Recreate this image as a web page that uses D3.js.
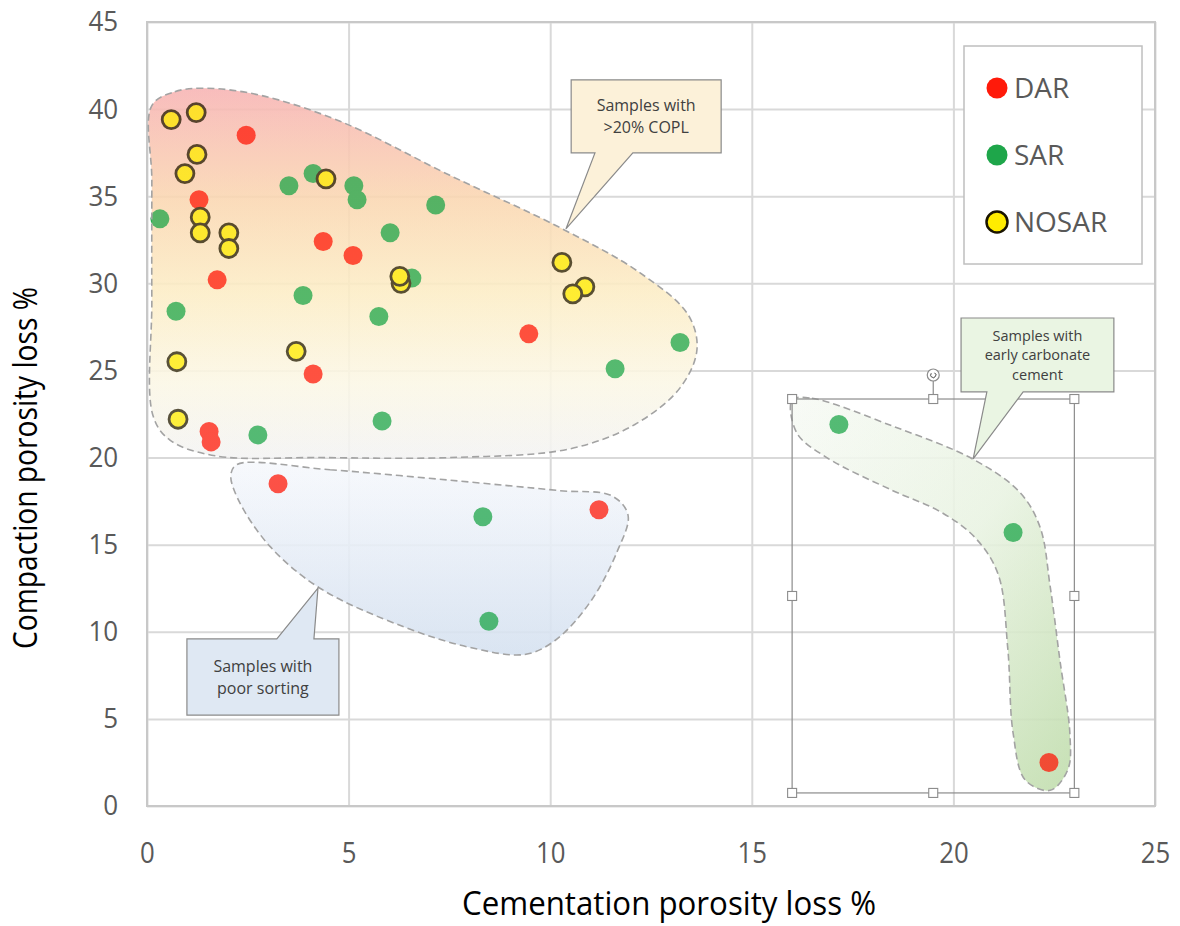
<!DOCTYPE html>
<html lang="en">
<head>
  <meta charset="UTF-8">
  <script src="https://cdn.jsdelivr.net/npm/d3@7"></script>
  <title>Porosity loss</title>
  <style>
    body { margin: 0; background: #fff; }
  </style>
</head>
<body>
  <svg width="1180" height="926" id="chart"></svg>
  <script>
    // series: [cementation loss %, compaction loss %]
    const darPoints = [
      [2.46, 38.5], [1.29, 34.8], [1.74, 30.2], [4.37, 32.4], [5.11, 31.6],
      [9.47, 27.1], [4.12, 24.8], [1.54, 21.5], [1.59, 20.9], [3.25, 18.5],
      [11.21, 17.0], [22.37, 2.5]
    ];
    const sarPoints = [
      [0.32, 33.7], [0.72, 28.4], [3.52, 35.6], [4.12, 36.3], [5.13, 35.6],
      [5.21, 34.8], [6.03, 32.9], [7.16, 34.5], [3.87, 29.3], [6.57, 30.3],
      [5.75, 28.1], [2.75, 21.3], [5.83, 22.1], [11.61, 25.1], [13.22, 26.6],
      [8.33, 16.6], [8.48, 10.6], [17.16, 21.9], [21.48, 15.7]
    ];
    const nosarPoints = [
      [0.60, 39.4], [1.22, 39.8], [1.24, 37.4], [0.94, 36.3], [1.32, 33.8],
      [1.32, 32.9], [2.03, 32.9], [2.03, 32.0], [4.44, 36.0], [6.30, 30.0],
      [6.27, 30.4], [10.29, 31.2], [10.86, 29.8], [10.56, 29.4], [3.70, 26.1],
      [0.74, 25.5], [0.77, 22.2]
    ];
    const xTicks = [0, 5, 10, 15, 20, 25];
    const yTicks = [0, 5, 10, 15, 20, 25, 30, 35, 40, 45];
    const seriesNames = ["DAR", "SAR", "NOSAR"];

    // hand drawn group outlines, in data units
    const coplOutline = [
      [0.12, 40.2], [0.69, 41.0], [1.44, 41.2], [2.80, 40.8], [4.79, 39.3],
      [7.51, 36.2], [10.24, 33.2], [12.23, 30.6], [13.42, 28.2], [13.64, 26.2],
      [13.22, 24.0], [12.10, 21.9], [10.49, 20.5], [7.51, 20.0], [4.29, 20.0],
      [1.69, 20.1], [0.57, 21.0], [0.15, 22.4], [0.12, 29.0], [0.12, 35.9]
    ];
    const sortingOutline = [
      [2.23, 19.6], [4.54, 19.3], [7.51, 18.7], [10.24, 18.1], [11.53, 17.8],
      [11.93, 16.7], [11.66, 14.6], [10.99, 11.7], [10.12, 9.5], [9.37, 8.7],
      [8.01, 9.1], [6.35, 10.3], [4.29, 12.5], [3.05, 14.9], [2.26, 17.6],
      [2.08, 19.0]
    ];
    const carbonateOutline = [
      [16.0, 23.3], [16.49, 23.4], [18.50, 21.8], [20.49, 19.9], [21.65, 18.0],
      [22.15, 16.0], [22.40, 12.6], [22.64, 8.4], [22.89, 4.1], [22.84, 2.1],
      [22.40, 0.9], [21.78, 1.5], [21.48, 4.2], [21.35, 9.0], [21.11, 13.3],
      [20.54, 15.4], [19.67, 16.9], [18.50, 18.1], [16.86, 20.0], [16.12, 21.4]
    ];

    let svg = d3.select("#chart");

    let x = d3.scaleLinear().domain([0, 25]).range([147, 1155]);
    let y = d3.scaleLinear().domain([0, 45]).range([806, 22]);

    /* GRADIENTS */
    let defs = svg.append("defs");
    let g1 = defs.append("linearGradient").attr("id", "coplFill")
      .attr("x1", 0).attr("y1", 0).attr("x2", 0).attr("y2", 1);
    [[0, "#f7b4b4"], [0.3, "#fad7b2"], [0.55, "#fcedc6"], [0.8, "#fbf7e6"], [1, "#f3f3f3"]]
      .forEach(s => g1.append("stop").attr("offset", s[0]).attr("stop-color", s[1]));
    let g2 = defs.append("linearGradient").attr("id", "sortFill")
      .attr("x1", 0).attr("y1", 0).attr("x2", 0).attr("y2", 1);
    [[0, "#f6f8fc"], [1, "#d5e1f0"]]
      .forEach(s => g2.append("stop").attr("offset", s[0]).attr("stop-color", s[1]));
    let g3 = defs.append("linearGradient").attr("id", "carbFill")
      .attr("x1", 0).attr("y1", 0).attr("x2", 1).attr("y2", 1);
    [[0, "#f7faf5"], [0.5, "#e9f3e2"], [1, "#bfdcab"]]
      .forEach(s => g3.append("stop").attr("offset", s[0]).attr("stop-color", s[1]));

    /* GRID + AXES */
    let yAxis = d3.axisLeft(y).tickValues(yTicks).tickSize(-(1155 - 147)).tickPadding(31);
    let gy = svg.append("g").attr("transform", "translate(147,0)").call(yAxis);
    gy.select(".domain").remove();
    gy.selectAll("line").attr("stroke", "#d9d9d9").attr("stroke-width", 2);
    gy.selectAll("text").attr("fill", "#595959")
      .attr("transform", "scale(0.93,1)")
      .style("font-family", "'Open Sans'").style("font-size", "28px");

    let xAxis = d3.axisBottom(x).tickValues(xTicks).tickSize(-(806 - 22)).tickPadding(36);
    let gx = svg.append("g").attr("transform", "translate(0,806)").call(xAxis);
    gx.select(".domain").remove();
    gx.selectAll("line").attr("stroke", "#d9d9d9").attr("stroke-width", 2);
    gx.selectAll("text").attr("fill", "#595959")
      .attr("transform", "scale(0.86,1)")
      .style("font-family", "'Open Sans'").style("font-size", "30px");

    svg.append("rect")
      .attr("x", x(0)).attr("y", y(45))
      .attr("width", x(25) - x(0)).attr("height", y(0) - y(45))
      .attr("fill", "none").attr("stroke", "#c8c8c8").attr("stroke-width", 2);

    /* AXIS TITLES */
    svg.append("text")
      .text("Cementation porosity loss %")
      .attr("x", 669).attr("y", 915)
      .attr("text-anchor", "middle")
      .attr("textLength", 414).attr("lengthAdjust", "spacingAndGlyphs")
      .style("font-family", "'Open Sans'").style("font-size", "32px").attr("fill", "#000");
    svg.append("text")
      .text("Compaction porosity loss %")
      .attr("transform", "translate(37,468) rotate(-90)")
      .attr("text-anchor", "middle")
      .attr("textLength", 362).attr("lengthAdjust", "spacingAndGlyphs")
      .style("font-family", "'Open Sans'").style("font-size", "32px").attr("fill", "#000");

    let outline = d3.line()
      .x(d => x(d[0])).y(d => y(d[1]))
      .curve(d3.curveCatmullRomClosed.alpha(0.5));

    let shapes = [
      { pts: coplOutline, fill: "url(#coplFill)" },
      { pts: sortingOutline, fill: "url(#sortFill)" },
      { pts: carbonateOutline, fill: "url(#carbFill)" }
    ];

    /* GROUP SHAPES (under points) */
    svg.append("g").selectAll("path").data(shapes).enter()
      .append("path")
      .attr("d", d => outline(d.pts))
      .attr("fill", d => d.fill)
      .attr("fill-opacity", 0.85);

    /* POINTS */
    let pts = svg.append("g");
    pts.selectAll(".dar").data(darPoints).enter().append("circle")
      .attr("cx", d => x(d[0])).attr("cy", d => y(d[1])).attr("r", 9.5)
      .attr("fill", "#ff1a0a");
    pts.selectAll(".sar").data(sarPoints).enter().append("circle")
      .attr("cx", d => x(d[0])).attr("cy", d => y(d[1])).attr("r", 9.5)
      .attr("fill", "#1ea64a");
    pts.selectAll(".nosar").data(nosarPoints).enter().append("circle")
      .attr("cx", d => x(d[0])).attr("cy", d => y(d[1])).attr("r", 9)
      .attr("fill", "#ffec00").attr("stroke", "#221a00").attr("stroke-width", 2.8);

    /* GROUP SHAPES (tint + dashed outline over points) */
    svg.append("g").selectAll("path").data(shapes).enter()
      .append("path")
      .attr("d", d => outline(d.pts))
      .attr("fill", d => d.fill)
      .attr("fill-opacity", 0.25)
      .attr("stroke", "#a3a3a3")
      .attr("stroke-width", 1.6)
      .attr("stroke-dasharray", "7,4");

    /* SELECTION FRAME round the carbonate shape */
    let sel = svg.append("g");
    let sx0 = x(16), sx1 = x(23), sy0 = y(23.36), sy1 = y(0.75);
    sel.append("rect").attr("x", sx0).attr("y", sy0)
      .attr("width", sx1 - sx0).attr("height", sy1 - sy0)
      .attr("fill", "none").attr("stroke", "#8c8c8c").attr("stroke-width", 1.2);
    let sm = (sx0 + sx1) / 2, vm = (sy0 + sy1) / 2;
    sel.append("line").attr("x1", sm).attr("x2", sm).attr("y1", sy0 - 18).attr("y2", sy0)
      .attr("stroke", "#8c8c8c").attr("stroke-width", 1.2);
    sel.append("circle").attr("cx", sm).attr("cy", sy0 - 24).attr("r", 6)
      .attr("fill", "#fff").attr("stroke", "#8c8c8c").attr("stroke-width", 1.2);
    sel.append("path")
      .attr("d", d3.arc()({ innerRadius: 2.6, outerRadius: 2.6, startAngle: 0.6, endAngle: 5.4 }))
      .attr("transform", `translate(${sm},${sy0 - 24})`)
      .attr("fill", "none").attr("stroke", "#777").attr("stroke-width", 1);
    let handles = [[sx0, sy0], [sm, sy0], [sx1, sy0], [sx0, vm], [sx1, vm], [sx0, sy1], [sm, sy1], [sx1, sy1]];
    sel.selectAll(".h").data(handles).enter().append("rect")
      .attr("x", d => d[0] - 4.5).attr("y", d => d[1] - 4.5)
      .attr("width", 9).attr("height", 9)
      .attr("fill", "#fff").attr("stroke", "#8c8c8c").attr("stroke-width", 1.1);

    /* CALLOUTS */
    let callouts = [
      { box: [10.52, 14.24, 41.68, 37.49], base: [11.11, 12.05], tip: [10.39, 33.12],
        fill: "#fcf1d9", lines: ["Samples with", ">20% COPL"] },
      { box: [0.99, 4.76, 9.59, 5.22], base: [3.22, 4.14], tip: [4.24, 12.5],
        fill: "#dfe8f3", lines: ["Samples with", "poor sorting"] },
      { box: [20.19, 23.98, 28.01, 23.77], base: [20.83, 21.73], tip: [20.49, 19.92],
        fill: "#eaf5e3", lines: ["Samples with", "early carbonate", "cement"] }
    ];
    callouts.forEach(c => {
      let l = x(c.box[0]), r = x(c.box[1]), t = y(c.box[2]), b = y(c.box[3]);
      let bx0 = x(c.base[0]), bx1 = x(c.base[1]), tx = x(c.tip[0]), ty = y(c.tip[1]);
      let d;
      if (ty > b) {
        d = `M${l},${t}L${r},${t}L${r},${b}L${bx1},${b}L${tx},${ty}L${bx0},${b}L${l},${b}Z`;
      } else {
        d = `M${l},${t}L${bx0},${t}L${tx},${ty}L${bx1},${t}L${r},${t}L${r},${b}L${l},${b}Z`;
      }
      svg.append("path").attr("d", d)
        .attr("fill", c.fill).attr("stroke", "#8a8a8a").attr("stroke-width", 1.2);
      let n = c.lines.length, lh = n > 2 ? 19.5 : 22;
      let fs = n > 2 ? 14.5 : 16;
      let cy = (t + b) / 2 - (n - 1) * lh / 2;
      c.lines.forEach((s, i) => {
        svg.append("text").text(s)
          .attr("x", (l + r) / 2).attr("y", cy + i * lh)
          .attr("dy", "0.35em").attr("text-anchor", "middle")
          .style("font-family", "'Open Sans'").style("font-size", fs + "px")
          .attr("fill", "#404040");
      });
    });

    /* LEGEND */
    let legend = svg.append("g").attr("transform", "translate(964,46)");
    legend.append("rect").attr("width", 178).attr("height", 218)
      .attr("fill", "#fff").attr("stroke", "#bfbfbf").attr("stroke-width", 1.5);
    let legendStyle = [
      { fill: "#ff1a0a", stroke: "none" },
      { fill: "#1ea64a", stroke: "none" },
      { fill: "#ffec00", stroke: "#1a1400" }
    ];
    seriesNames.forEach((name, i) => {
      let ly = 42 + i * 67;
      legend.append("circle").attr("cx", 33).attr("cy", ly).attr("r", 10.5)
        .attr("fill", legendStyle[i].fill)
        .attr("stroke", legendStyle[i].stroke).attr("stroke-width", 2.5);
      legend.append("text").text(name)
        .attr("x", 50).attr("y", ly).attr("dy", "0.36em")
        .style("font-family", "'Open Sans'").style("font-size", "28px")
        .attr("fill", "#595959");
    });
  </script>
</body>
</html>
